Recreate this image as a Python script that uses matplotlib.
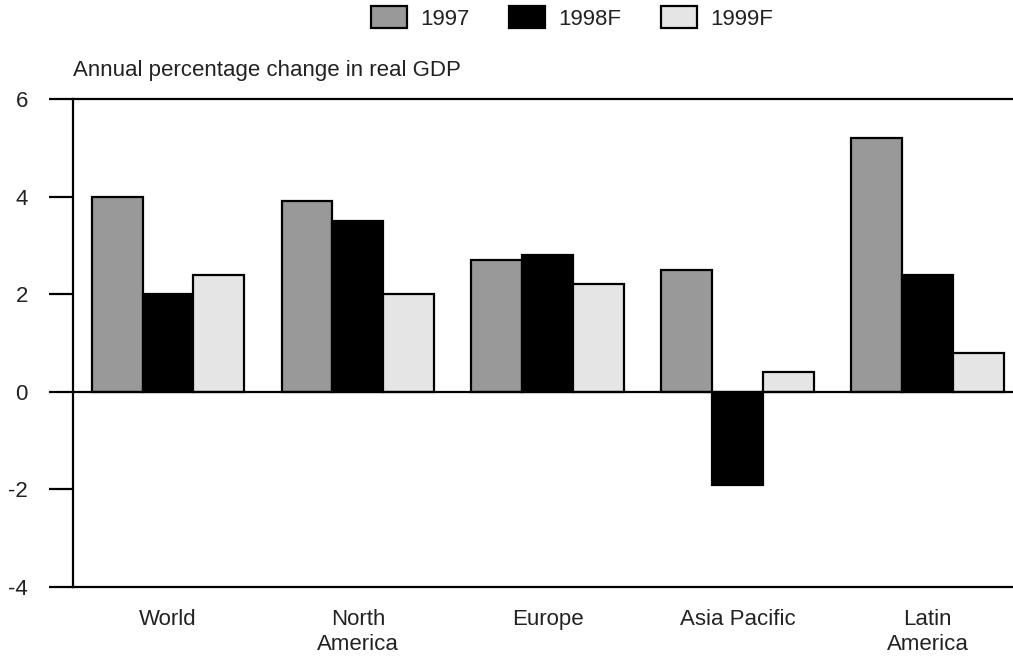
import matplotlib
matplotlib.use("Agg")
import matplotlib.pyplot as plt
import numpy as np
from matplotlib.patches import Patch

plt.rcParams['font.family'] = ['Liberation Sans', 'DejaVu Sans']

regions = ["World", "North\nAmerica", "Europe", "Asia Pacific", "Latin\nAmerica"]
series_names = ["1997", "1998F", "1999F"]
gdp_1997 = [4.0, 3.9, 2.7, 2.5, 5.2]
gdp_1998f = [2.0, 3.5, 2.8, -1.9, 2.4]
gdp_1999f = [2.4, 2.0, 2.2, 0.4, 0.8]
y_ticks = [-4, -2, 0, 2, 4, 6]

colors = ["#999999", "#000000", "#e5e5e5"]
text_color = "#222222"
fs = 16

W, H = 1013, 657
fig = plt.figure(figsize=(W / 100, H / 100), dpi=100)
ax = fig.add_axes([73 / W, 1 - 587 / H, (1013 - 73) / W, (587 - 99) / H])

x = np.arange(len(regions))
bw = 0.268
for i, (vals, c) in enumerate(zip([gdp_1997, gdp_1998f, gdp_1999f], colors)):
    ax.bar(x + (i - 1) * bw, vals, width=bw, color=c, edgecolor="black",
           linewidth=1.6, zorder=3)

ax.set_xlim(-0.5, 4.45)
ax.set_ylim(-4, 6)
ax.set_yticks(y_ticks)
ax.set_yticklabels([str(v) for v in y_ticks])
ax.set_xticks(x)
ax.set_xticklabels(regions, linespacing=1.25)

ax.spines["right"].set_visible(False)
for s in ["left", "top", "bottom"]:
    ax.spines[s].set_linewidth(1.6)
    ax.spines[s].set_color("black")
ax.axhline(0, color="black", linewidth=1.6, zorder=4)

ax.tick_params(axis="y", direction="out", length=17.5, width=1.6, pad=15,
               labelsize=fs, labelcolor=text_color)
ax.tick_params(axis="x", length=0, pad=16, labelsize=fs, labelcolor=text_color)

fig.text(73 / W, 1 - 76 / H, "Annual percentage change in real GDP",
         fontsize=fs, color=text_color, ha="left", va="baseline")

handles = [Patch(facecolor=c, edgecolor="black", linewidth=1.6) for c in colors]
fig.legend(handles, series_names, loc="center", ncol=3,
           bbox_to_anchor=(572 / W, 1 - 18 / H), frameon=False, fontsize=fs,
           handlelength=1.62, handleheight=1.08, handletextpad=0.59,
           columnspacing=1.8, borderpad=0, labelcolor=text_color)

fig.savefig("out.png", dpi=100)
